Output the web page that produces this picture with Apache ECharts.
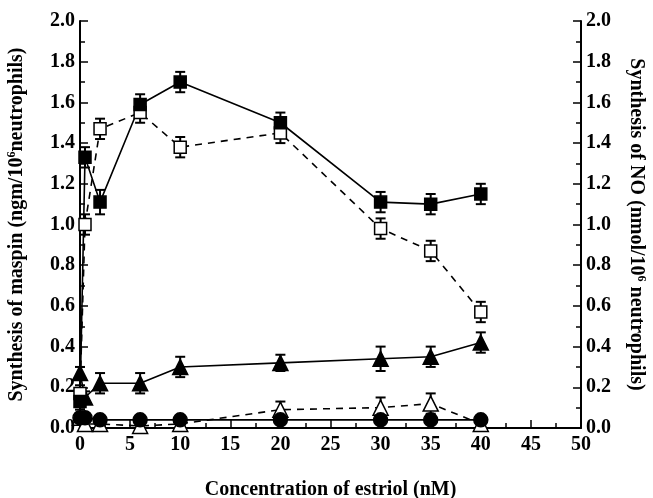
<!DOCTYPE html>
<html>
<head>
<meta charset="utf-8">
<script src="https://cdn.jsdelivr.net/npm/echarts@6/dist/echarts.min.js"></script>
<style>
  html, body { margin: 0; padding: 0; background: #fff; }
  #chart { width: 653px; height: 498px; }
</style>
</head>
<body>
<div id="chart"></div>
<script>
// estriol concentrations (nM)
const xVals = [0, 0.5, 2, 6, 10, 20, 30, 35, 40];

// values
const maspinFilled = [0.13, 1.33, 1.11, 1.59, 1.70, 1.50, 1.11, 1.10, 1.15];
const maspinFilledErr = [0.04, 0.05, 0.06, 0.05, 0.05, 0.05, 0.05, 0.05, 0.05];
const maspinOpen = [0.17, 1.00, 1.47, 1.55, 1.38, 1.45, 0.98, 0.87, 0.57];
const maspinOpenErr = [0.04, 0.05, 0.05, 0.05, 0.05, 0.05, 0.05, 0.05, 0.05];
const noFilled = [0.27, 0.15, 0.22, 0.22, 0.30, 0.32, 0.34, 0.35, 0.42];
const noFilledErr = [0.03, 0.03, 0.05, 0.05, 0.05, 0.04, 0.06, 0.05, 0.05];
const noOpen = [0.05, 0.02, 0.02, 0.01, 0.02, 0.09, 0.10, 0.12, 0.02];
const noOpenErr = [0.02, 0.02, 0.01, 0.01, 0.01, 0.04, 0.05, 0.05, 0.02];
const circles = [0.05, 0.05, 0.04, 0.04, 0.04, 0.04, 0.04, 0.04, 0.04];

const xTicks = [0, 5, 10, 15, 20, 25, 30, 35, 40, 45, 50];

const FONT = '"Liberation Serif", "Times New Roman", serif';

function pairs(ys) {
  return xVals.map((x, i) => [x, ys[i]]);
}
function errData(ys, errs) {
  return xVals.map((x, i) => [x, ys[i] - errs[i], ys[i] + errs[i]]);
}

// error bar: vertical line with caps
function errorBar(ys, errs) {
  return {
    type: 'custom',
    data: errData(ys, errs),
    z: 1,
    silent: true,
    renderItem: function (params, api) {
      const lo = api.coord([api.value(0), api.value(1)]);
      const hi = api.coord([api.value(0), api.value(2)]);
      const w = 5;
      const st = { stroke: '#000', lineWidth: 2 };
      return {
        type: 'group',
        children: [
          { type: 'line', shape: { x1: lo[0], y1: lo[1], x2: hi[0], y2: hi[1] }, style: st },
          { type: 'line', shape: { x1: lo[0] - w, y1: lo[1], x2: lo[0] + w, y2: lo[1] }, style: st },
          { type: 'line', shape: { x1: hi[0] - w, y1: hi[1], x2: hi[0] + w, y2: hi[1] }, style: st }
        ]
      };
    }
  };
}

function lineSeries(ys, symbol, size, filled, dashed) {
  return {
    type: 'line',
    data: pairs(ys),
    symbol: symbol,
    symbolSize: size,
    z: 3,
    lineStyle: { color: '#000', width: 1.6, type: dashed ? [7, 6] : 'solid' },
    itemStyle: { color: filled ? '#000' : '#fff', borderColor: '#000', borderWidth: 1.5 },
    emphasis: { disabled: true }
  };
}

const axisLabelStyle = { color: '#000', fontFamily: FONT, fontWeight: 'bold', fontSize: 20 };
const nameRich = {
  sup: { fontSize: 12, fontFamily: FONT, fontWeight: 'bold', color: '#000', padding: [0, 0, 10, 0] }
};
const nameStyle = { color: '#000', fontFamily: FONT, fontWeight: 'bold', fontSize: 20, rich: nameRich };

const myChart = echarts.init(document.getElementById('chart'));
myChart.setOption({
  animation: false,
  backgroundColor: '#fff',
  grid: { left: 80, right: 72, top: 21, bottom: 70, outerBoundsMode: 'none' },
  xAxis: {
    type: 'value',
    min: 0, max: 50, interval: 5,
    name: 'Concentration of estriol (nM)',
    nameLocation: 'middle',
    nameGap: 52,
    nameTextStyle: { color: '#000', fontFamily: FONT, fontWeight: 'bold', fontSize: 20 },
    axisLine: { show: true, onZero: false, lineStyle: { color: '#000', width: 2 } },
    axisTick: { show: true, inside: true, length: 8, lineStyle: { color: '#000', width: 1.5 } },
    minorTick: { show: true, splitNumber: 2, length: 5, lineStyle: { color: '#000', width: 1.5 } },
    splitLine: { show: false },
    axisLabel: Object.assign({ margin: 7, formatter: v => xTicks.includes(v) ? String(v) : '' }, axisLabelStyle)
  },
  yAxis: [
    {
      type: 'value',
      position: 'left',
      min: 0, max: 2, interval: 0.2,
      name: 'Synthesis of maspin (ngm/10{sup|6}neutrophils)',
      nameLocation: 'middle',
      nameRotate: 90,
      nameGap: 52,
      nameTextStyle: nameStyle,
      axisLine: { show: true, lineStyle: { color: '#000', width: 2 } },
      axisTick: { show: true, inside: true, length: 8, lineStyle: { color: '#000', width: 1.5 } },
      minorTick: { show: true, splitNumber: 2, length: 5, lineStyle: { color: '#000', width: 1.5 } },
      splitLine: { show: false },
      axisLabel: Object.assign({ margin: 5, formatter: v => v.toFixed(1) }, axisLabelStyle)
    },
    {
      type: 'value',
      position: 'right',
      min: 0, max: 2, interval: 0.2,
      name: 'Synthesis of NO (nmol/10{sup|6} neutrophils)',
      nameLocation: 'middle',
      nameRotate: -90,
      nameGap: 44,
      nameTextStyle: nameStyle,
      axisLine: { show: true, lineStyle: { color: '#000', width: 2 } },
      axisTick: { show: true, inside: true, length: 8, lineStyle: { color: '#000', width: 1.5 } },
      minorTick: { show: true, splitNumber: 2, length: 5, lineStyle: { color: '#000', width: 1.5 } },
      splitLine: { show: false },
      axisLabel: Object.assign({ margin: 5, formatter: v => v.toFixed(1) }, axisLabelStyle)
    }
  ],
  series: [
    errorBar(maspinFilled, maspinFilledErr),
    errorBar(maspinOpen, maspinOpenErr),
    errorBar(noFilled, noFilledErr),
    errorBar(noOpen, noOpenErr),
    lineSeries(noOpen, 'triangle', 15, false, true),
    lineSeries(circles, 'circle', 14, true, false),
    lineSeries(noFilled, 'triangle', 15, true, false),
    lineSeries(maspinOpen, 'rect', 12, false, true),
    lineSeries(maspinFilled, 'rect', 12, true, false)
  ]
});
</script>
</body>
</html>
